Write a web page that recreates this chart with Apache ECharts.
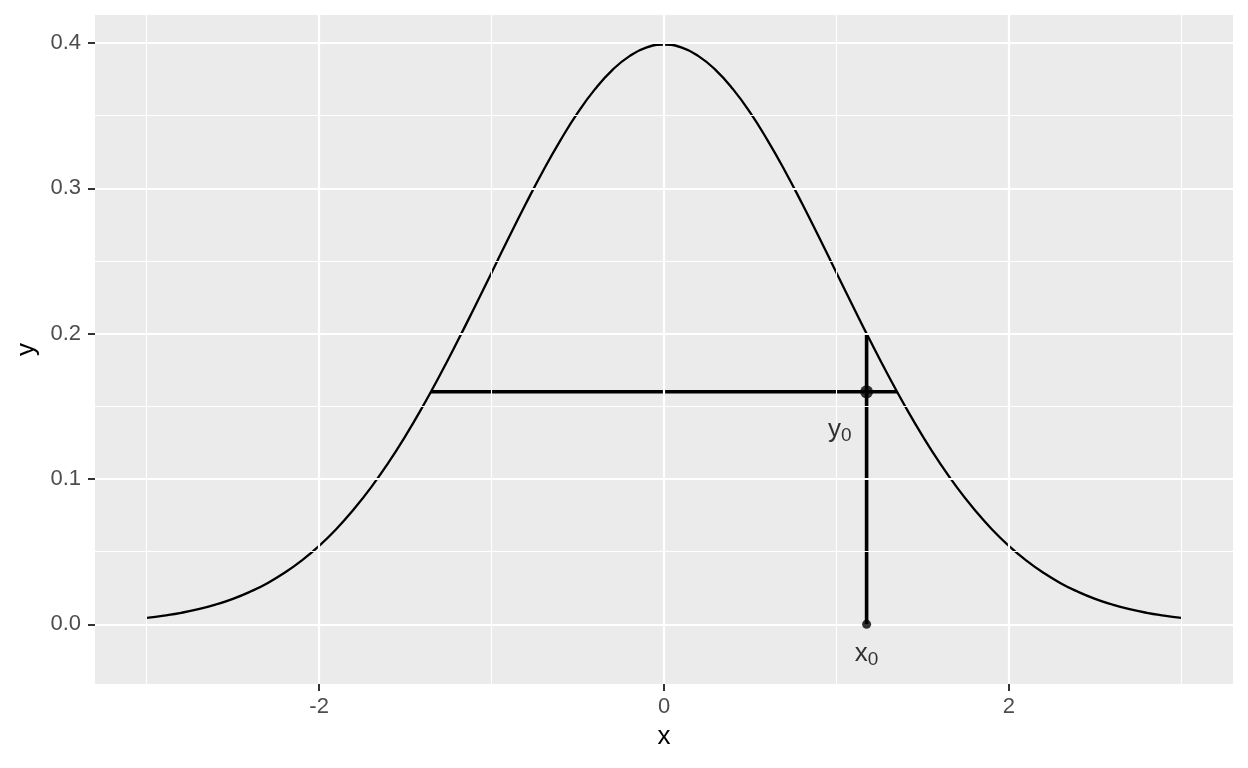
<!DOCTYPE html>
<html>
<head>
<meta charset="utf-8">
<script src="https://cdn.jsdelivr.net/npm/echarts@6/dist/echarts.min.js"></script>
<style>html,body{margin:0;padding:0;background:#fff;}#c{width:1248px;height:768px;}</style>
</head>
<body>
<div id="c"></div>
<script>
// Density curve (x, y)
const curveX = [-3.0,-2.9,-2.8,-2.7,-2.6,-2.5,-2.4,-2.3,-2.2,-2.1,-2.0,-1.9,-1.8,-1.7,-1.6,-1.5,-1.4,-1.3,-1.2,-1.1,-1.0,-0.9,-0.8,-0.7,-0.6,-0.5,-0.4,-0.3,-0.2,-0.1,0.0,0.1,0.2,0.3,0.4,0.5,0.6,0.7,0.8,0.9,1.0,1.1,1.2,1.3,1.4,1.5,1.6,1.7,1.8,1.9,2.0,2.1,2.2,2.3,2.4,2.5,2.6,2.7,2.8,2.9,3.0];
const curveY = [0.0044,0.0060,0.0079,0.0104,0.0136,0.0175,0.0224,0.0283,0.0355,0.0440,0.0540,0.0656,0.0790,0.0940,0.1109,0.1295,0.1497,0.1714,0.1942,0.2179,0.2420,0.2661,0.2897,0.3123,0.3332,0.3521,0.3683,0.3814,0.3910,0.3970,0.3989,0.3970,0.3910,0.3814,0.3683,0.3521,0.3332,0.3123,0.2897,0.2661,0.2420,0.2179,0.1942,0.1714,0.1497,0.1295,0.1109,0.0940,0.0790,0.0656,0.0540,0.0440,0.0355,0.0283,0.0224,0.0175,0.0136,0.0104,0.0079,0.0060,0.0044];
// Reference segments and points
const vSegX = [1.175, 1.175];
const vSegY = [0.0, 0.2];
const hSegX = [-1.352, 1.352];
const hSegY = [0.16, 0.16];
const bigPoint = [1.175, 0.16];
const smallPoint = [1.175, 0.0];
// Text labels
const labelY0 = {x: 1.02, y: 0.134, main: 'y', sub: '0'};
const labelX0 = {x: 1.175, y: -0.02, main: 'x', sub: '0'};
// Axis ticks
const xMajor = [-2, 0, 2];
const xMinor = [-3, -1, 1, 3];
const yMajor = [0, 0.1, 0.2, 0.3, 0.4];
const yMinor = [0.05, 0.15, 0.25, 0.35];

const zip = (a, b) => a.map((v, i) => [v, b[i]]);
const chart = echarts.init(document.getElementById('c'), null, {renderer: 'canvas'});
const FONT = 'Liberation Sans, Arial, sans-serif';

const gridLines = [];
xMinor.forEach(v => gridLines.push({xAxis: v, lineStyle: {color: '#fff', width: 1.1, type: 'solid'}}));
yMinor.forEach(v => gridLines.push({yAxis: v, lineStyle: {color: '#fff', width: 1.1, type: 'solid'}}));
xMajor.forEach(v => gridLines.push({xAxis: v, lineStyle: {color: '#fff', width: 2.2, type: 'solid'}}));
yMajor.forEach(v => gridLines.push({yAxis: v, lineStyle: {color: '#fff', width: 2.2, type: 'solid'}}));

const rich = {
  m: {fontFamily: FONT, fontSize: 26, color: '#000', lineHeight: 30},
  s: {fontFamily: FONT, fontSize: 19, color: '#000', lineHeight: 30, padding: [12, 0, 0, 0]}
};
function textSeries(l) {
  return {
    type: 'scatter', data: [[l.x, l.y]], symbolSize: 1, itemStyle: {color: 'rgba(0,0,0,0)'},
    silent: true, z: 5,
    label: {show: true, position: 'inside', color: '#000', textBorderWidth: 0,
            formatter: '{m|' + l.main + '}{s|' + l.sub + '}', rich: rich}
  };
}

chart.setOption({
  animation: false,
  backgroundColor: '#fff',
  grid: {left: 95, right: 15, top: 15, bottom: 84, show: true, backgroundColor: '#EBEBEB', borderWidth: 0},
  xAxis: {
    type: 'value', min: -3.3, max: 3.3,
    name: 'x', nameLocation: 'middle', nameGap: 40,
    nameTextStyle: {fontFamily: FONT, fontSize: 26, color: '#000'},
    axisLine: {show: false, onZero: false},
    axisTick: {show: true, customValues: xMajor, length: 7, lineStyle: {color: '#333', width: 2}},
    axisLabel: {customValues: xMajor, margin: 12, fontFamily: FONT, fontSize: 22, color: '#4D4D4D'},
    splitLine: {show: false}
  },
  yAxis: {
    type: 'value', min: -0.0411, max: 0.4193,
    name: 'y', nameLocation: 'middle', nameGap: 53, nameRotate: 90,
    nameTextStyle: {fontFamily: FONT, fontSize: 26, color: '#000'},
    axisLine: {show: false, onZero: false},
    axisTick: {show: true, customValues: yMajor, length: 7, lineStyle: {color: '#333', width: 2}},
    axisLabel: {customValues: yMajor, margin: 14, formatter: v => v.toFixed(1), fontFamily: FONT, fontSize: 22, color: '#4D4D4D'},
    splitLine: {show: false}
  },
  series: [
    {type: 'line', data: [], silent: true, z: 1,
     markLine: {silent: true, symbol: ['none', 'none'], label: {show: false}, animation: false, data: gridLines}},
    {type: 'line', data: zip(curveX, curveY), showSymbol: false, smooth: 0.5, silent: true, z: 3,
     lineStyle: {color: '#000', width: 2.3}},
    {type: 'line', data: zip(hSegX, hSegY), showSymbol: false, silent: true, z: 4,
     lineStyle: {color: '#000', width: 3.6, cap: 'butt'}},
    {type: 'line', data: zip(vSegX, vSegY), showSymbol: false, silent: true, z: 4,
     lineStyle: {color: '#000', width: 3.6, cap: 'butt'}},
    {type: 'scatter', data: [bigPoint], symbolSize: 13, itemStyle: {color: '#000'}, silent: true, z: 6},
    {type: 'scatter', data: [smallPoint], symbolSize: 9, itemStyle: {color: '#000'}, silent: true, z: 6},
    textSeries(labelY0),
    textSeries(labelX0)
  ]
});
</script>
</body>
</html>
